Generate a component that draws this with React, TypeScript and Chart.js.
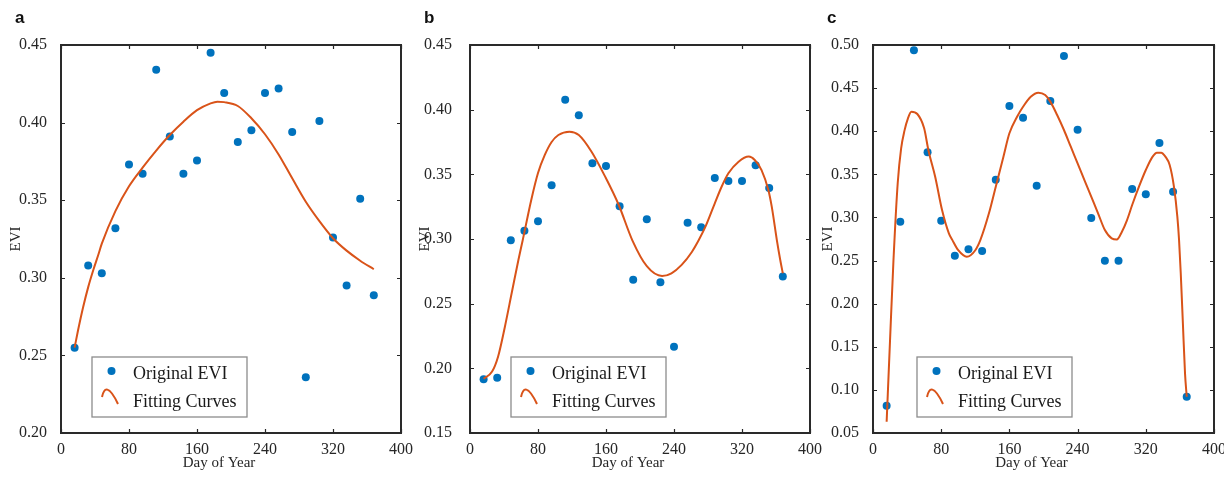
import React, { useEffect, useRef } from "react";
import { Chart, registerables } from "chart.js";

Chart.register(...registerables);

// ---------- data ----------
const doy = [16, 32, 48, 64, 80, 96, 112, 128, 144, 160, 176, 192, 208, 224, 240, 256, 272, 288, 304, 320, 336, 352, 368];

const eviA = [0.255, 0.308, 0.303, 0.332, 0.373, 0.367, 0.434, 0.391, 0.367, 0.3755, 0.445, 0.419, 0.3875, 0.395, 0.419, 0.422, 0.394, 0.236, 0.401, 0.326, 0.295, 0.351, 0.2887];
const eviB = [0.1915, 0.1928, 0.299, 0.3064, 0.3137, 0.3415, 0.4077, 0.3956, 0.3585, 0.3564, 0.3253, 0.2685, 0.3152, 0.2665, 0.2167, 0.3126, 0.309, 0.3472, 0.3448, 0.3448, 0.357, 0.3394, 0.2711];
const eviC = [0.0817, 0.295, 0.494, 0.3755, 0.2962, 0.2556, 0.263, 0.261, 0.3438, 0.4293, 0.4157, 0.3368, 0.435, 0.4872, 0.4018, 0.2993, 0.2499, 0.2499, 0.333, 0.3268, 0.3863, 0.3299, 0.0921];

const fitDaysA = [16, 20, 26, 32, 38, 44, 48, 64, 80, 96, 112, 128, 144, 160, 176, 184, 192, 208, 224, 240, 256, 272, 288, 304, 320, 336, 352, 368];
const fitA = [0.255, 0.266, 0.281, 0.294, 0.305, 0.315, 0.322, 0.343, 0.359, 0.371, 0.382, 0.392, 0.4006, 0.408, 0.4124, 0.4135, 0.4132, 0.4107, 0.4028, 0.3925, 0.3795, 0.3641, 0.349, 0.3365, 0.3255, 0.3175, 0.311, 0.3055];

const fitDaysB = [16, 26, 33, 41, 49, 57, 62, 72, 80, 88, 96, 104, 117, 128, 143, 159, 175, 191, 208, 226, 237, 249, 261, 269, 277, 288, 296, 304, 316, 328, 335, 343, 351, 355, 361, 365, 368];
const fitB = [0.192, 0.1975, 0.209, 0.232, 0.258, 0.284, 0.299, 0.33, 0.351, 0.365, 0.375, 0.3804, 0.383, 0.3804, 0.3675, 0.3482, 0.3263, 0.299, 0.279, 0.2714, 0.2735, 0.28, 0.29, 0.299, 0.3095, 0.3276, 0.3404, 0.3508, 0.3598, 0.3637, 0.3611, 0.3533, 0.3379, 0.325, 0.2992, 0.2838, 0.2735];

const fitDaysC = [16, 20, 24, 29, 33, 37, 41, 45, 52, 60, 65, 73, 81, 89, 93, 100, 110, 120, 126, 136, 144, 153, 160, 169, 176, 185, 194, 202, 208, 216, 224, 232, 240, 248, 256, 264, 272, 280, 286, 292, 298, 304, 312, 320, 328, 333, 338, 343, 348, 353, 357, 359, 361, 363.5, 366, 368];
const fitC = [0.063, 0.158, 0.25, 0.34, 0.38, 0.401, 0.415, 0.4227, 0.42, 0.4034, 0.378, 0.347, 0.3086, 0.2816, 0.274, 0.262, 0.2545, 0.262, 0.274, 0.3048, 0.3357, 0.3705, 0.3976, 0.4168, 0.4284, 0.44, 0.4447, 0.442, 0.4343, 0.4188, 0.4014, 0.382, 0.3628, 0.3434, 0.3241, 0.3048, 0.2854, 0.2758, 0.2745, 0.2835, 0.297, 0.3144, 0.3357, 0.355, 0.3705, 0.3751, 0.3751, 0.3705, 0.3608, 0.3357, 0.3009, 0.274, 0.2352, 0.1772, 0.1192, 0.0921];

const xTicks = [0, 80, 160, 240, 320, 400];
const yTicksA = [0.2, 0.25, 0.3, 0.35, 0.4, 0.45];
const yTicksB = [0.15, 0.2, 0.25, 0.3, 0.35, 0.4, 0.45];
const yTicksC = [0.05, 0.1, 0.15, 0.2, 0.25, 0.3, 0.35, 0.4, 0.45, 0.5];

const panelLetters = ["a", "b", "c"];
const legendLabels = ["Original EVI", "Fitting Curves"];
const xTitle = "Day of Year";
const yTitle = "EVI";

// ---------- styling ----------
const BLUE = "#0072BD";
const ORANGE = "#D95319";
const INK = "#262626";
const SERIF = '"Liberation Serif", "Times New Roman", serif';
const SANS = '"Liberation Sans", Arial, sans-serif';

type Panel = {
  letter: string;
  points: number[];
  fitDays: number[];
  fit: number[];
  yTicks: number[];
  canvasLeft: number;
  width: number;
  padRight: number;
  yPad: number;
  legendDx: number;
};

const panels: Panel[] = [
  { letter: panelLetters[0], points: eviA, fitDays: fitDaysA, fit: fitA, yTicks: yTicksA, canvasLeft: 0, width: 416, padRight: 15, yPad: 6, legendDx: 31 },
  { letter: panelLetters[1], points: eviB, fitDays: fitDaysB, fit: fitB, yTicks: yTicksB, canvasLeft: 409, width: 416, padRight: 15, yPad: 10, legendDx: 41 },
  { letter: panelLetters[2], points: eviC, fitDays: fitDaysC, fit: fitC, yTicks: yTicksC, canvasLeft: 812, width: 412, padRight: 10, yPad: 6, legendDx: 44 },
];

function makeDecor(p: Panel) {
  return {
    id: "decor_" + p.letter,
    afterDatasetsDraw(chart: any) {
      const { ctx, chartArea } = chart;
      const { left, right, top, bottom } = chartArea;
      const xs = chart.scales.x;
      const ys = chart.scales.y;
      ctx.save();
      // inward tick marks on all four sides
      ctx.strokeStyle = INK;
      ctx.lineWidth = 1.2;
      ctx.beginPath();
      xs.ticks.forEach((t: any) => {
        const px = Math.round(xs.getPixelForValue(t.value)) + 0.5;
        ctx.moveTo(px, bottom);
        ctx.lineTo(px, bottom - 4);
        ctx.moveTo(px, top);
        ctx.lineTo(px, top + 4);
      });
      ys.ticks.forEach((t: any) => {
        const py = Math.round(ys.getPixelForValue(t.value)) + 0.5;
        ctx.moveTo(left, py);
        ctx.lineTo(left + 4, py);
        ctx.moveTo(right, py);
        ctx.lineTo(right - 4, py);
      });
      ctx.stroke();
      // box frame
      ctx.lineWidth = 2;
      ctx.strokeStyle = "#2a2a2a";
      ctx.strokeRect(left, top, right - left, bottom - top);

      // legend box
      const bx = left + p.legendDx;
      const by = bottom - 76;
      const bw = 155;
      const bh = 60;
      ctx.fillStyle = "#ffffff";
      ctx.fillRect(bx, by, bw, bh);
      ctx.lineWidth = 1.3;
      ctx.strokeStyle = "#8c8c8c";
      ctx.strokeRect(bx, by, bw, bh);
      // marker sample
      ctx.fillStyle = BLUE;
      ctx.beginPath();
      ctx.arc(bx + 19.5, by + 14, 4, 0, Math.PI * 2);
      ctx.fill();
      // curve sample
      ctx.strokeStyle = ORANGE;
      ctx.lineWidth = 2;
      ctx.beginPath();
      ctx.moveTo(bx + 10, by + 40);
      ctx.bezierCurveTo(bx + 12, by + 30, bx + 17, by + 28, bx + 26, by + 47);
      ctx.stroke();
      // legend text
      ctx.fillStyle = "#1a1a1a";
      ctx.font = "18px " + SERIF;
      ctx.textAlign = "left";
      ctx.textBaseline = "alphabetic";
      ctx.fillText(legendLabels[0], bx + 41, by + 21.5);
      ctx.fillText(legendLabels[1], bx + 41, by + 50);

      // x axis title
      ctx.fillStyle = INK;
      ctx.font = "15px " + SERIF;
      ctx.textAlign = "center";
      ctx.fillText(xTitle, (left + right) / 2 - 12, 467);

      // panel letter
      ctx.fillStyle = "#111";
      ctx.font = "bold 17px " + SANS;
      ctx.textAlign = "left";
      ctx.fillText(p.letter, 15, 23);
      ctx.restore();
    },
  };
}

function PanelChart({ p }: { p: Panel }) {
  const ref = useRef<HTMLCanvasElement | null>(null);
  useEffect(() => {
    if (!ref.current) return;
    const pts = doy.map((d, i) => ({ x: d, y: p.points[i] }));
    const curve = p.fitDays.map((d, i) => ({ x: d, y: p.fit[i] }));
    const yMin = p.yTicks[0];
    const yMax = p.yTicks[p.yTicks.length - 1];
    const chart = new Chart(ref.current, {
      type: "scatter",
      data: {
        datasets: [
          {
            label: legendLabels[0],
            data: pts,
            backgroundColor: BLUE,
            borderColor: BLUE,
            borderWidth: 0,
            pointRadius: 4,
            pointHoverRadius: 4,
            order: 2,
          },
          {
            label: legendLabels[1],
            data: curve,
            showLine: true,
            borderColor: ORANGE,
            backgroundColor: ORANGE,
            borderWidth: 2,
            pointRadius: 0,
            cubicInterpolationMode: "monotone",
            fill: false,
            order: 1,
          } as any,
        ],
      },
      options: {
        animation: false,
        responsive: false,
        devicePixelRatio: 1,
        layout: { padding: { left: 0, right: p.padRight, top: 45, bottom: 0 } },
        plugins: {
          legend: { display: false },
          tooltip: { enabled: false },
          title: { display: false },
        },
        scales: {
          x: {
            type: "linear",
            min: 0,
            max: 400,
            grid: { display: false },
            border: { display: false },
            ticks: {
              font: { family: SERIF, size: 16 },
              color: INK,
              padding: -1,
              maxRotation: 0,
              autoSkip: false,
              callback: (v: any) => String(v),
            },
            afterBuildTicks: (s: any) => {
              s.ticks = xTicks.map((v) => ({ value: v }));
            },
            afterFit: (s: any) => {
              s.height = 44;
              s.paddingLeft = 0;
              s.paddingRight = 0;
            },
          },
          y: {
            type: "linear",
            min: yMin,
            max: yMax,
            grid: { display: false },
            border: { display: false },
            ticks: {
              font: { family: SERIF, size: 16 },
              color: INK,
              padding: p.yPad,
              autoSkip: false,
              callback: (v: any) => Number(v).toFixed(2),
            },
            title: {
              display: true,
              text: yTitle,
              color: INK,
              font: { family: SERIF, size: 15 },
              padding: { top: 7, bottom: 0 },
            },
            afterBuildTicks: (s: any) => {
              s.ticks = p.yTicks.map((v) => ({ value: v }));
            },
            afterFit: (s: any) => {
              s.width = 61;
              s.paddingTop = 0;
              s.paddingBottom = 0;
            },
          },
        },
      } as any,
      plugins: [makeDecor(p)],
    });
    return () => chart.destroy();
  }, [p]);
  return (
    <canvas
      ref={ref}
      width={p.width}
      height={477}
      style={{ position: "absolute", left: p.canvasLeft, top: 0, width: p.width, height: 477 }}
    />
  );
}

export default function App() {
  return (
    <div
      style={{
        position: "absolute",
        left: 0,
        top: 0,
        width: 1224,
        height: 477,
        background: "#ffffff",
        overflow: "hidden",
      }}
    >
      {panels.map((p) => (
        <PanelChart key={p.letter} p={p} />
      ))}
    </div>
  );
}
